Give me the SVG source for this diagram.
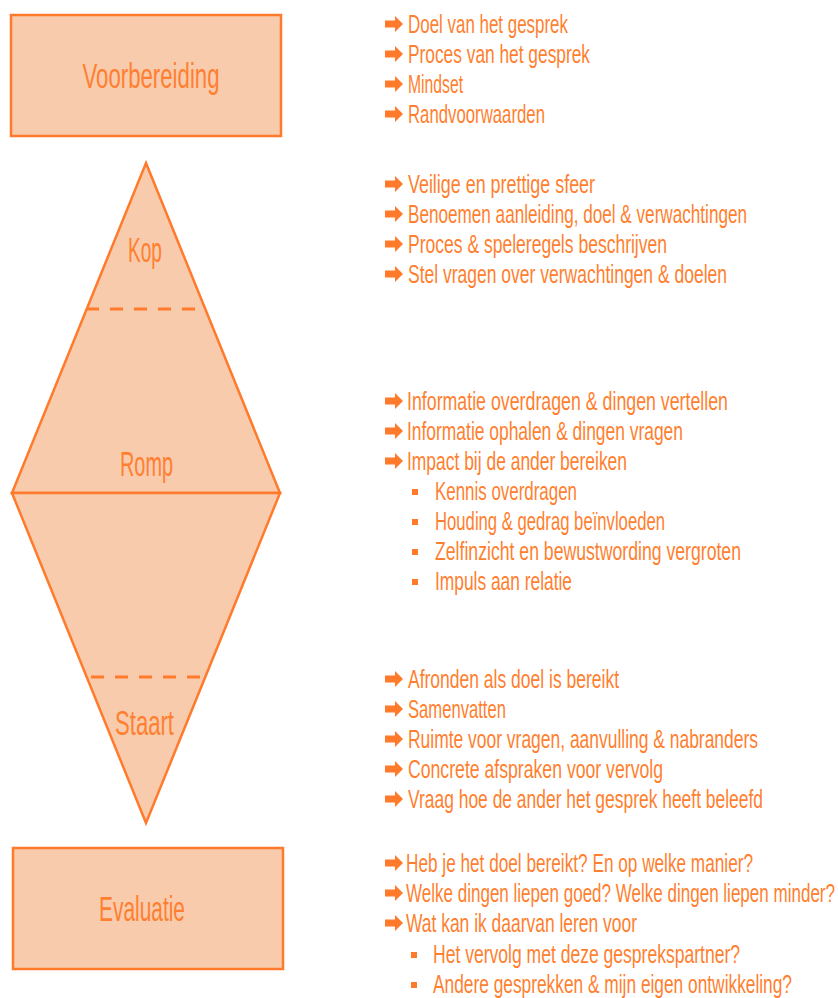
<svg xmlns="http://www.w3.org/2000/svg" xmlns:xlink="http://www.w3.org/1999/xlink" width="838" height="998" viewBox="0 0 838 998">
  <style>
    .shape { fill: #F8CBAD; stroke: #FF7A2B; stroke-width: 2.5; stroke-linejoin: miter; }
    .dash { stroke: #FF7A2B; stroke-width: 3; stroke-dasharray: 13 11; fill: none; }
    .label { font-family: "Liberation Sans Narrow", "Liberation Sans", Arial, sans-serif; font-size: 35px; fill: #FF7F30; }
    .item { font-family: "Liberation Sans Narrow", "Liberation Sans", Arial, sans-serif; font-size: 26px; fill: #FF7F30; }
    .arrow { fill: #FF7A2B; }
    .sq { fill: #FF7A2B; }
  </style>
  <defs>
    <!-- block arrow bullet, origin at left edge / vertical middle -->
    <path id="arr" class="arrow" d="M0,-3.5 H10 V-8 L18,0 L10,8 V3.5 H0 Z"/>
    <rect id="sqb" class="sq" x="0" y="-3" width="6" height="6"/>
  </defs>

  <!-- phase shapes -->
  <g id="voorbereiding">
    <rect class="shape" x="11" y="15" width="270" height="121"/>
    <text class="label" x="151" y="88" text-anchor="middle" textLength="137" lengthAdjust="spacingAndGlyphs">Voorbereiding</text>
  </g>

  <g id="gesprek">
    <polygon class="shape" points="146,163 280,493 12,493"/>
    <polygon class="shape" points="12,493 280,493 146,823"/>
    <line class="dash" x1="86" y1="309" x2="196" y2="309"/>
    <line class="dash" x1="91" y1="677" x2="202" y2="677"/>
    <text class="label" x="145" y="262" text-anchor="middle" textLength="34" lengthAdjust="spacingAndGlyphs">Kop</text>
    <text class="label" x="146.5" y="476" text-anchor="middle" textLength="53" lengthAdjust="spacingAndGlyphs">Romp</text>
    <text class="label" x="144.5" y="735" text-anchor="middle" textLength="59" lengthAdjust="spacingAndGlyphs">Staart</text>
  </g>

  <g id="evaluatie">
    <rect class="shape" x="13" y="848" width="270" height="121"/>
    <text class="label" x="142" y="921" text-anchor="middle" textLength="86" lengthAdjust="spacingAndGlyphs">Evaluatie</text>
  </g>

  <!-- bullet lists -->
  <g id="lijst-voorbereiding">
    <use xlink:href="#arr" x="385" y="24"/>
    <text class="item" x="408" y="33" textLength="160" lengthAdjust="spacingAndGlyphs">Doel van het gesprek</text>
    <use xlink:href="#arr" x="385" y="54"/>
    <text class="item" x="408" y="63" textLength="182" lengthAdjust="spacingAndGlyphs">Proces van het gesprek</text>
    <use xlink:href="#arr" x="385" y="84"/>
    <text class="item" x="408" y="93" textLength="55" lengthAdjust="spacingAndGlyphs">Mindset</text>
    <use xlink:href="#arr" x="385" y="114"/>
    <text class="item" x="408" y="123" textLength="137" lengthAdjust="spacingAndGlyphs">Randvoorwaarden</text>
  </g>

  <g id="lijst-kop">
    <use xlink:href="#arr" x="385" y="184"/>
    <text class="item" x="408" y="193" textLength="187" lengthAdjust="spacingAndGlyphs">Veilige en prettige sfeer</text>
    <use xlink:href="#arr" x="385" y="214"/>
    <text class="item" x="408" y="223" textLength="339" lengthAdjust="spacingAndGlyphs">Benoemen aanleiding, doel &amp; verwachtingen</text>
    <use xlink:href="#arr" x="385" y="244"/>
    <text class="item" x="408" y="253" textLength="259" lengthAdjust="spacingAndGlyphs">Proces &amp; speleregels beschrijven</text>
    <use xlink:href="#arr" x="385" y="274"/>
    <text class="item" x="408" y="283" textLength="319" lengthAdjust="spacingAndGlyphs">Stel vragen over verwachtingen &amp; doelen</text>
  </g>

  <g id="lijst-romp">
    <use xlink:href="#arr" x="385" y="401"/>
    <text class="item" x="407" y="410" textLength="321" lengthAdjust="spacingAndGlyphs">Informatie overdragen &amp; dingen vertellen</text>
    <use xlink:href="#arr" x="385" y="431"/>
    <text class="item" x="407" y="440" textLength="276" lengthAdjust="spacingAndGlyphs">Informatie ophalen &amp; dingen vragen</text>
    <use xlink:href="#arr" x="385" y="461"/>
    <text class="item" x="407" y="470" textLength="220" lengthAdjust="spacingAndGlyphs">Impact bij de ander bereiken</text>
    <use xlink:href="#sqb" x="412" y="492"/>
    <text class="item" x="435" y="500" textLength="142" lengthAdjust="spacingAndGlyphs">Kennis overdragen</text>
    <use xlink:href="#sqb" x="412" y="522"/>
    <text class="item" x="435" y="530" textLength="230" lengthAdjust="spacingAndGlyphs">Houding &amp; gedrag beïnvloeden</text>
    <use xlink:href="#sqb" x="412" y="552"/>
    <text class="item" x="435" y="560" textLength="306" lengthAdjust="spacingAndGlyphs">Zelfinzicht en bewustwording vergroten</text>
    <use xlink:href="#sqb" x="412" y="582"/>
    <text class="item" x="435" y="590" textLength="137" lengthAdjust="spacingAndGlyphs">Impuls aan relatie</text>
  </g>

  <g id="lijst-staart">
    <use xlink:href="#arr" x="385" y="679"/>
    <text class="item" x="408" y="688" textLength="211" lengthAdjust="spacingAndGlyphs">Afronden als doel is bereikt</text>
    <use xlink:href="#arr" x="385" y="709"/>
    <text class="item" x="408" y="718" textLength="98" lengthAdjust="spacingAndGlyphs">Samenvatten</text>
    <use xlink:href="#arr" x="385" y="739"/>
    <text class="item" x="408" y="748" textLength="350" lengthAdjust="spacingAndGlyphs">Ruimte voor vragen, aanvulling &amp; nabranders</text>
    <use xlink:href="#arr" x="385" y="769"/>
    <text class="item" x="408" y="778" textLength="255" lengthAdjust="spacingAndGlyphs">Concrete afspraken voor vervolg</text>
    <use xlink:href="#arr" x="385" y="799"/>
    <text class="item" x="408" y="808" textLength="355" lengthAdjust="spacingAndGlyphs">Vraag hoe de ander het gesprek heeft beleefd</text>
  </g>

  <g id="lijst-evaluatie">
    <use xlink:href="#arr" x="385" y="863"/>
    <text class="item" x="406" y="872" textLength="347" lengthAdjust="spacingAndGlyphs">Heb je het doel bereikt? En op welke manier?</text>
    <use xlink:href="#arr" x="385" y="893"/>
    <text class="item" x="406" y="902" textLength="429" lengthAdjust="spacingAndGlyphs">Welke dingen liepen goed? Welke dingen liepen minder?</text>
    <use xlink:href="#arr" x="385" y="923"/>
    <text class="item" x="406" y="932" textLength="231" lengthAdjust="spacingAndGlyphs">Wat kan ik daarvan leren voor</text>
    <use xlink:href="#sqb" x="411" y="955"/>
    <text class="item" x="433" y="963" textLength="307" lengthAdjust="spacingAndGlyphs">Het vervolg met deze gesprekspartner?</text>
    <use xlink:href="#sqb" x="411" y="985"/>
    <text class="item" x="433" y="993" textLength="359" lengthAdjust="spacingAndGlyphs">Andere gesprekken &amp; mijn eigen ontwikkeling?</text>
  </g>
</svg>
